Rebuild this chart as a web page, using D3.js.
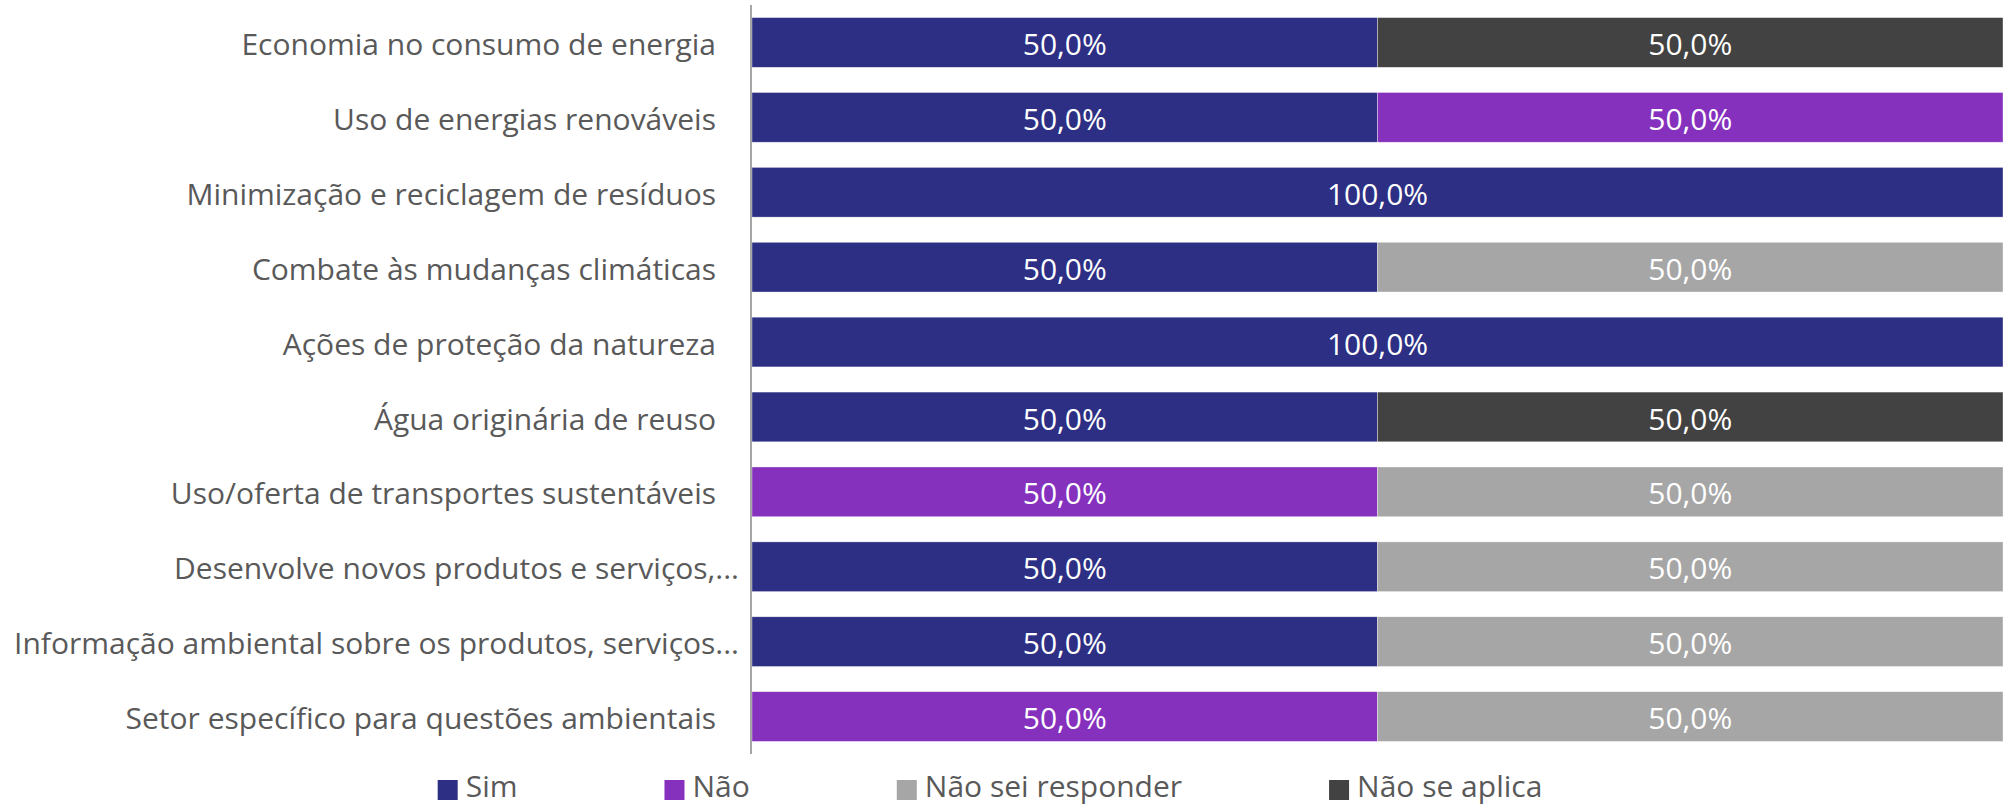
<!DOCTYPE html>
<html>
<head>
<meta charset="utf-8">
<script src="https://cdn.jsdelivr.net/npm/d3@7"></script>
<style>
  html, body { margin: 0; padding: 0; background: #fff; }
  svg { display: block; font-family: "Open Sans", "Noto Sans", sans-serif; }
</style>
</head>
<body>
<svg id="chart" width="2003" height="806"></svg>
<script>
// Categories, top to bottom
const categories = [
  "Economia no consumo de energia",
  "Uso de energias renováveis",
  "Minimização e reciclagem de resíduos",
  "Combate às mudanças climáticas",
  "Ações de proteção da natureza",
  "Água originária de reuso",
  "Uso/oferta de transportes sustentáveis",
  "Desenvolve novos produtos e serviços,...",
  "Informação ambiental sobre os produtos, serviços...",
  "Setor específico para questões ambientais"
];

// Response series (percent of respondents)
const seriesNames = ["Sim", "Não", "Não sei responder", "Não se aplica"];
const sim        = [50, 50, 100, 50, 100, 50, 0, 50, 50, 0];
const nao        = [0, 50, 0, 0, 0, 0, 50, 0, 0, 50];
const naoSei     = [0, 0, 0, 50, 0, 0, 50, 50, 50, 50];
const naoSeAplica= [50, 0, 0, 0, 0, 50, 0, 0, 0, 0];
const seriesColors = ["#2C2F84", "#8531BE", "#A6A6A6", "#424242"];

const W = 2003;
const axisX = 751;
const svg = d3.select("#chart");

const table = categories.map((c, i) => ({
  cat: c, "Sim": sim[i], "Não": nao[i], "Não sei responder": naoSei[i], "Não se aplica": naoSeAplica[i]
}));
const stacked = d3.stack().keys(seriesNames)(table);

const x = d3.scaleLinear().domain([0, 100]).range([axisX + 1, W]);
const y = d3.scaleBand().domain(categories).range([5, 754])
  .paddingInner(0.336).paddingOuter(0.168);
const color = d3.scaleOrdinal().domain(seriesNames).range(seriesColors);
const fmt = v => d3.format(".1f")(v).replace(".", ",") + "%";

// Bars
const layers = svg.append("g").selectAll("g").data(stacked).join("g")
  .attr("fill", d => color(d.key));
layers.selectAll("rect").data(d => d.filter(s => s[1] - s[0] > 0)).join("rect")
  .attr("x", d => x(d[0]))
  .attr("y", d => y(d.data.cat))
  .attr("width", d => x(d[1]) - x(d[0]))
  .attr("height", y.bandwidth())
  .attr("stroke", "#fff").attr("stroke-width", 0.6).attr("stroke-opacity", 0.6);

// Value labels
layers.selectAll("text").data(d => d.filter(s => s[1] - s[0] > 0)).join("text")
  .attr("x", d => (x(d[0]) + x(d[1])) / 2)
  .attr("y", d => y(d.data.cat) + y.bandwidth() / 2)
  .attr("text-anchor", "middle").attr("dy", "0.42em")
  .attr("fill", "#fff").attr("font-size", 30)
  .text(d => fmt(d[1] - d[0]));

// Category axis
const yAxis = d3.axisLeft(y).tickSize(0).tickPadding(0);
const gAxis = svg.append("g").attr("transform", `translate(${axisX},0)`).call(yAxis);
gAxis.select(".domain").remove();
gAxis.selectAll("text")
  .attr("font-family", "Open Sans, sans-serif")
  .attr("font-size", 30).attr("fill", "#595959")
  .attr("dy", "0.42em")
  .attr("x", d => d.endsWith("...") ? -12 : -35);
svg.append("line")
  .attr("x1", axisX).attr("x2", axisX).attr("y1", 5).attr("y2", 754)
  .attr("stroke", "#A6A6A6").attr("stroke-width", 2);

// Legend
const legend = svg.append("g");
const items = legend.selectAll("g").data(seriesNames).join("g");
items.append("rect").attr("width", 20).attr("height", 20).attr("y", -17)
  .attr("fill", d => color(d));
items.append("text").attr("x", 28)
  .attr("font-size", 30).attr("fill", "#595959").text(d => d);
let cx = 0;
items.each(function() {
  const g = d3.select(this);
  g.attr("transform", `translate(${cx},0)`);
  cx += 28 + g.select("text").node().getComputedTextLength() + 147;
});
const legendW = cx - 147;
legend.attr("transform", `translate(${990 - legendW / 2},797)`);
</script>
</body>
</html>
